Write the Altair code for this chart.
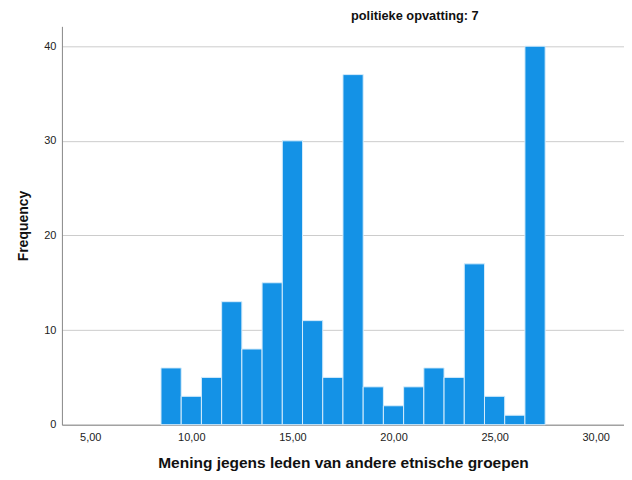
import altair as alt
import pandas as pd

centers = [9, 10, 11, 12, 13, 14, 15, 16, 17, 18, 19, 20, 21, 22, 23, 24, 25, 26, 27]
counts = [6, 3, 5, 13, 8, 15, 30, 11, 5, 37, 4, 2, 4, 6, 5, 17, 3, 1, 40]
x_ticks = [5, 10, 15, 20, 25, 30]
y_ticks = [0, 10, 20, 30, 40]

df = pd.DataFrame({
    "start": [c - 0.5 for c in centers],
    "end": [c + 0.5 for c in centers],
    "count": counts,
})

FONT = "Liberation Sans"

chart = alt.Chart(df).mark_bar(
    color="#1492e6", stroke="#d6ecfb", strokeWidth=1
).encode(
    x=alt.X("start:Q",
            scale=alt.Scale(domain=[3.6, 31.4], nice=False, zero=False),
            axis=alt.Axis(values=x_ticks, title="Mening jegens leden van andere etnische groepen",
                          labelExpr="replace(format(datum.value, '.2f'), '.', ',')",
                          grid=False, ticks=False, domainColor="#888888",
                          labelFontSize=11, labelPadding=7, labelColor="#222222",
                          labelFlush=False,
                          titleFontSize=15.5, titleFontWeight="bold", titlePadding=13,
                          titleColor="#111111", labelFont=FONT, titleFont=FONT)),
    x2="end:Q",
    y=alt.Y("count:Q",
            scale=alt.Scale(domain=[0, 42.1], nice=False),
            axis=alt.Axis(values=y_ticks, title="Frequency", grid=True, gridColor="#cccccc",
                          ticks=False, domainColor="#888888", labelFontSize=11,
                          labelPadding=6, labelColor="#222222", labelFlush=False,
                          titleFontSize=14, titleFontWeight="bold", titlePadding=13,
                          titleColor="#111111", labelFont=FONT, titleFont=FONT)),
    y2=alt.datum(0),
).properties(
    width=563,
    height=399,
    title=alt.TitleParams("politieke opvatting: 7", fontSize=12.8, fontWeight="bold",
                          font=FONT, color="#111111", anchor="middle", dx=72, offset=4),
    autosize=alt.AutoSizeParams(type="none"),
    padding={"left": 54, "top": 18, "right": 0, "bottom": 46},
).configure_view(stroke=None)

chart.save("out.html", embed_options={"renderer": "svg", "actions": False})
